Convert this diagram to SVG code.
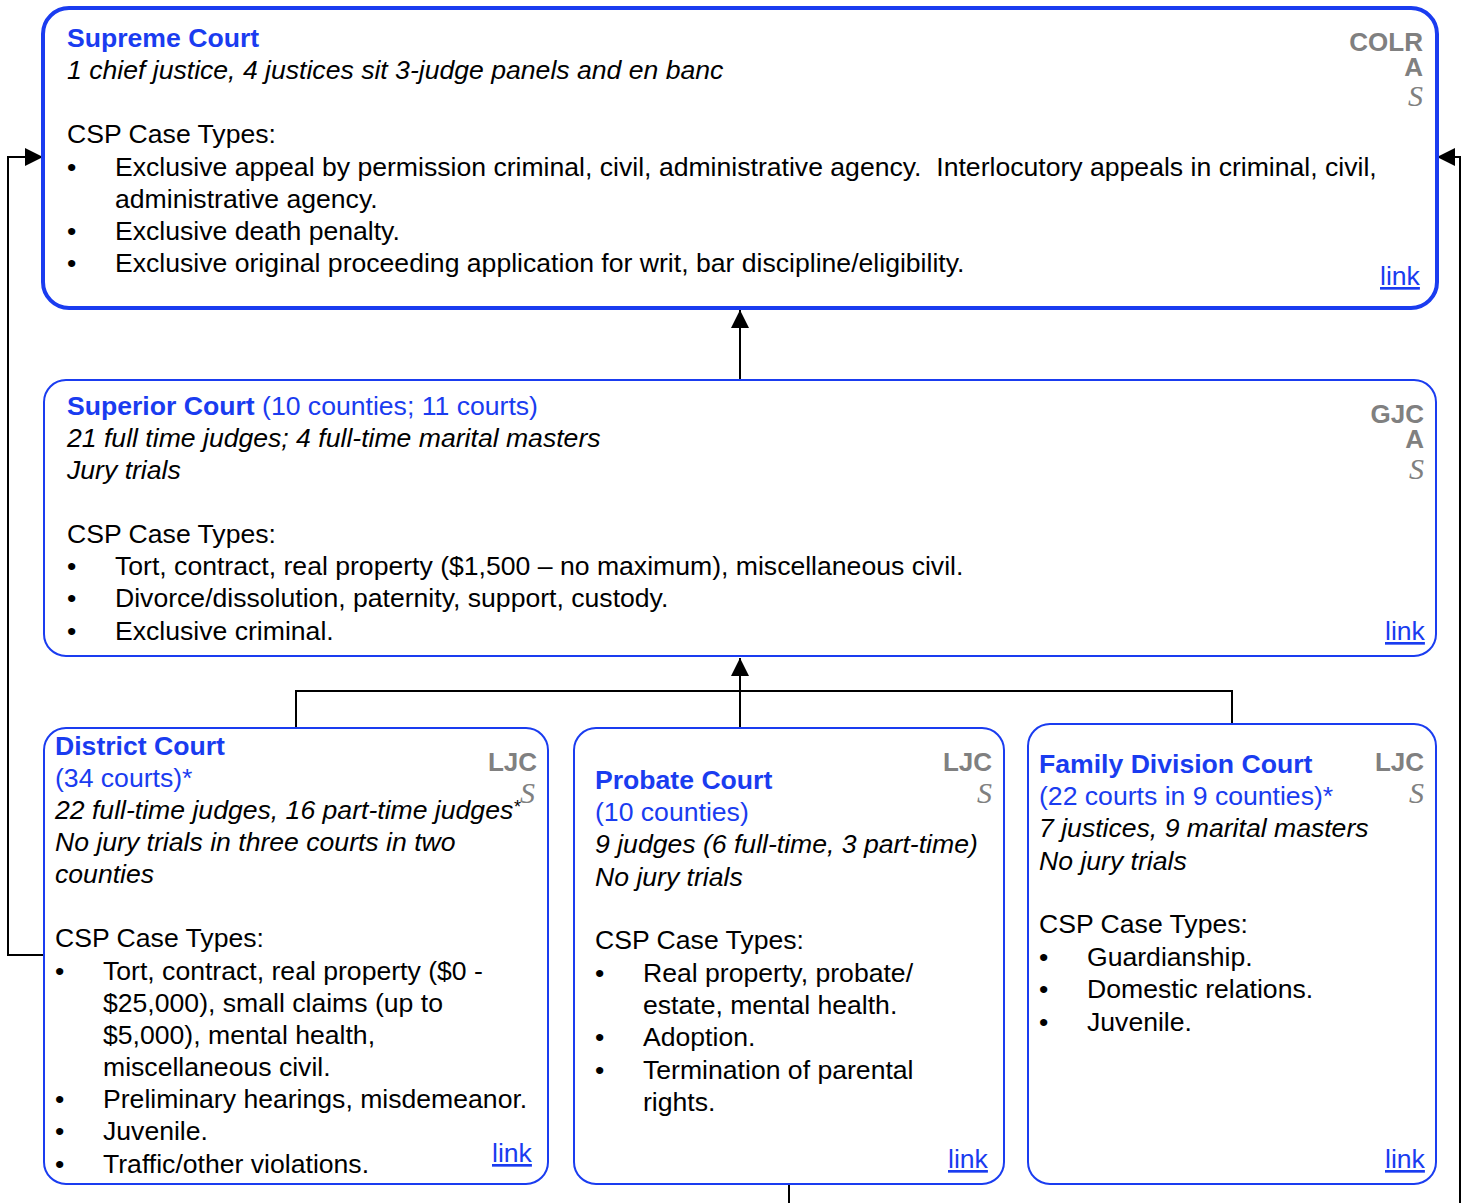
<svg xmlns="http://www.w3.org/2000/svg" width="1467" height="1203" viewBox="0 0 1467 1203">
<style>
text{font-family:"Liberation Sans",Arial,sans-serif;font-size:26.6px;fill:#000}
.t{fill:#1a3cf0;font-weight:bold}
.b{fill:#1a3cf0}
.i{font-style:italic}
.lnk{fill:#1a3cf0;text-decoration:underline}
.g{fill:#808080;font-weight:bold;text-anchor:end;font-size:26px}
.s{fill:#808080;font-family:"Liberation Serif","Times New Roman",serif;font-style:italic;font-size:30px;text-anchor:end}
.box{fill:#fff;stroke:#1a3cf0;stroke-width:2}
.ln{fill:none;stroke:#000;stroke-width:2}
</style>
<defs>
<marker id="ah2" viewBox="0 0 10 10" refX="10" refY="5" markerWidth="18" markerHeight="18" markerUnits="userSpaceOnUse" orient="auto">
<path d="M0,0 L10,5 L0,10 z" fill="#000"/>
</marker>
</defs>
<g id="connectors">
<line class="ln" x1="740" y1="380" x2="740" y2="310" marker-end="url(#ah2)"/>
<line class="ln" x1="740" y1="691" x2="740" y2="658" marker-end="url(#ah2)"/>
<polyline class="ln" points="296,728 296,691 1232,691 1232,724"/>
<line class="ln" x1="740" y1="728" x2="740" y2="691"/>
<polyline class="ln" points="44,955 8,955 8,157 43,157" marker-end="url(#ah2)"/>
<polyline class="ln" points="1460,1203 1460,157 1437,157" marker-end="url(#ah2)"/>
<line class="ln" x1="789" y1="1184" x2="789" y2="1203"/>
</g>
<g id="supreme">
<rect x="43" y="8" width="1394" height="300" rx="26" fill="#fff" stroke="#1a3cf0" stroke-width="4"/>
<text x="67" y="47" class="t">Supreme Court</text>
<text x="67" y="79" class="i">1 chief justice, 4 justices sit 3-judge panels and en banc</text>
<text x="67" y="143">CSP Case Types:</text>
<text x="67" y="176">•</text><text x="115" y="176">Exclusive appeal by permission criminal, civil, administrative agency.&#160; Interlocutory appeals in criminal, civil,</text>
<text x="115" y="208">administrative agency.</text>
<text x="67" y="240">•</text><text x="115" y="240">Exclusive death penalty.</text>
<text x="67" y="272">•</text><text x="115" y="272">Exclusive original proceeding application for writ, bar discipline/eligibility.</text>
<text x="1380" y="285" class="lnk">link</text>
<text x="1423" y="51" class="g">COLR</text>
<text x="1423" y="76" class="g">A</text>
<text x="1423" y="106" class="s">S</text>
</g>
<g id="superior">
<rect class="box" x="44" y="380" width="1392" height="276" rx="22"/>
<text x="67" y="415"><tspan class="t">Superior Court</tspan><tspan class="b"> (10 counties; 11 courts)</tspan></text>
<text x="67" y="447" class="i">21 full time judges; 4 full-time marital masters</text>
<text x="67" y="479" class="i">Jury trials</text>
<text x="67" y="543">CSP Case Types:</text>
<text x="67" y="575">•</text><text x="115" y="575">Tort, contract, real property ($1,500 – no maximum), miscellaneous civil.</text>
<text x="67" y="607">•</text><text x="115" y="607">Divorce/dissolution, paternity, support, custody.</text>
<text x="67" y="640">•</text><text x="115" y="640">Exclusive criminal.</text>
<text x="1385" y="640" class="lnk">link</text>
<text x="1424" y="423" class="g">GJC</text>
<text x="1424" y="448" class="g">A</text>
<text x="1424" y="479" class="s">S</text>
</g>
<g id="district">
<rect class="box" x="44" y="728" width="504" height="456" rx="22"/>
<text x="55" y="755" class="t">District Court</text>
<text x="55" y="787" class="b">(34 courts)*</text>
<text x="55" y="819" class="i">22 full-time judges, 16 part-time judges<tspan font-size="18" dy="-6">*</tspan></text>
<text x="55" y="851" class="i">No jury trials in three courts in two</text>
<text x="55" y="883" class="i">counties</text>
<text x="55" y="947">CSP Case Types:</text>
<text x="55" y="980">•</text><text x="103" y="980">Tort, contract, real property ($0 -</text>
<text x="103" y="1012">$25,000), small claims (up to</text>
<text x="103" y="1044">$5,000), mental health,</text>
<text x="103" y="1076">miscellaneous civil.</text>
<text x="55" y="1108">•</text><text x="103" y="1108">Preliminary hearings, misdemeanor.</text>
<text x="55" y="1140">•</text><text x="103" y="1140">Juvenile.</text>
<text x="55" y="1173">•</text><text x="103" y="1173">Traffic/other violations.</text>
<text x="492" y="1162" class="lnk">link</text>
<text x="537" y="771" class="g">LJC</text>
<text x="535" y="803" class="s">S</text>
</g>
<g id="probate">
<rect class="box" x="574" y="728" width="430" height="456" rx="22"/>
<text x="595" y="789" class="t">Probate Court</text>
<text x="595" y="821" class="b">(10 counties)</text>
<text x="595" y="853" class="i">9 judges (6 full-time, 3 part-time)</text>
<text x="595" y="886" class="i">No jury trials</text>
<text x="595" y="949">CSP Case Types:</text>
<text x="595" y="982">•</text><text x="643" y="982">Real property, probate/</text>
<text x="643" y="1014">estate, mental health.</text>
<text x="595" y="1046">•</text><text x="643" y="1046">Adoption.</text>
<text x="595" y="1079">•</text><text x="643" y="1079">Termination of parental</text>
<text x="643" y="1111">rights.</text>
<text x="948" y="1168" class="lnk">link</text>
<text x="992" y="771" class="g">LJC</text>
<text x="992" y="803" class="s">S</text>
</g>
<g id="family">
<rect class="box" x="1028" y="724" width="408" height="460" rx="22"/>
<text x="1039" y="773" class="t">Family Division Court</text>
<text x="1039" y="805" class="b">(22 courts in 9 counties)*</text>
<text x="1039" y="837" class="i">7 justices, 9 marital masters</text>
<text x="1039" y="870" class="i">No jury trials</text>
<text x="1039" y="933">CSP Case Types:</text>
<text x="1039" y="966">•</text><text x="1087" y="966">Guardianship.</text>
<text x="1039" y="998">•</text><text x="1087" y="998">Domestic relations.</text>
<text x="1039" y="1031">•</text><text x="1087" y="1031">Juvenile.</text>
<text x="1385" y="1168" class="lnk">link</text>
<text x="1424" y="771" class="g">LJC</text>
<text x="1424" y="803" class="s">S</text>
</g>
</svg>
